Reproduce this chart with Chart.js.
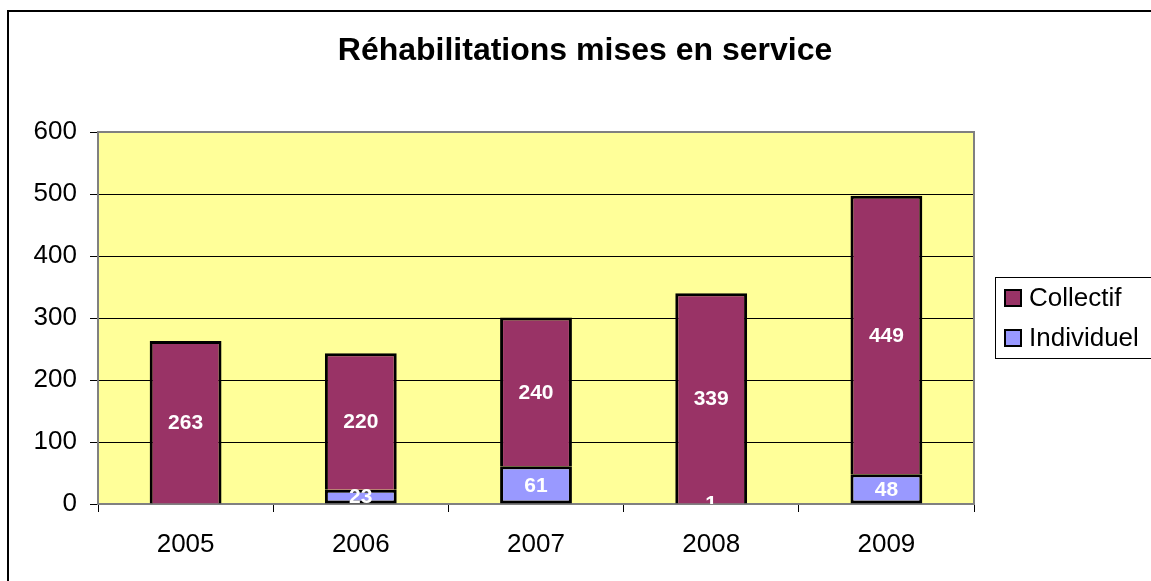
<!DOCTYPE html>
<html>
<head>
<meta charset="utf-8">
<script src="https://cdn.jsdelivr.net/npm/chart.js@4"></script>
<style>
html,body{margin:0;padding:0;background:#fff;}
canvas{display:block;}
</style>
</head>
<body>
<canvas id="c" width="1151" height="581"></canvas>
<script>
const titleText = 'Réhabilitations mises en service';
const categories = ['2005', '2006', '2007', '2008', '2009'];
const individuel = [null, 23, 61, 1, 48];
const collectif = [263, 220, 240, 339, 449];
const yMin = 0, yMax = 600, yStep = 100;

const FONT = '"Liberation Sans", Arial, sans-serif';

const bgPlugin = {
  id: 'bgPlugin',
  beforeDraw(chart) {
    const ctx = chart.ctx, a = chart.chartArea;
    ctx.save();
    ctx.fillStyle = '#fff';
    ctx.fillRect(0, 0, chart.width, chart.height);
    ctx.strokeStyle = '#000';
    ctx.lineWidth = 2;
    ctx.strokeRect(8, 11, chart.width + 20, chart.height + 20);
    ctx.fillStyle = '#FFFF99';
    ctx.fillRect(a.left, a.top, a.right - a.left, a.bottom - a.top);
    // title
    ctx.fillStyle = '#000';
    ctx.font = 'bold 32px ' + FONT;
    ctx.textAlign = 'center';
    ctx.textBaseline = 'middle';
    ctx.fillText(titleText, 585, 51);
    ctx.restore();
  },
  beforeDatasetsDraw(chart) {
    const ctx = chart.ctx, a = chart.chartArea;
    ctx.save();
    ctx.strokeStyle = '#808080';
    ctx.lineWidth = 2;
    ctx.strokeRect(a.left, a.top, a.right - a.left, a.bottom - a.top);
    ctx.restore();
  }
};

const labelPlugin = {
  id: 'labelPlugin',
  afterDatasetsDraw(chart) {
    const ctx = chart.ctx, a = chart.chartArea;
    ctx.save();
    ctx.beginPath();
    ctx.rect(a.left, a.top, a.right - a.left, a.bottom - a.top);
    ctx.clip();
    ctx.fillStyle = '#fff';
    ctx.font = 'bold 21px ' + FONT;
    ctx.textAlign = 'center';
    ctx.textBaseline = 'middle';
    chart.data.datasets.forEach((ds, i) => {
      const meta = chart.getDatasetMeta(i);
      meta.data.forEach((el, j) => {
        const v = ds.data[j];
        if (v === null || v === undefined) return;
        const y = (el.y + el.base) / 2;
        ctx.fillText(String(v), el.x, y + 1);
      });
    });
    ctx.restore();
  }
};

const legendPlugin = {
  id: 'legendPlugin',
  afterDraw(chart) {
    const ctx = chart.ctx;
    ctx.save();
    ctx.strokeStyle = '#000';
    ctx.lineWidth = 1;
    ctx.strokeRect(995.5, 277.5, 200, 81);
    const items = chart.data.datasets.slice().reverse();
    ctx.font = '26px ' + FONT;
    ctx.textBaseline = 'middle';
    ctx.textAlign = 'left';
    items.forEach((ds, k) => {
      const cy = 298 + k * 40;
      ctx.fillStyle = ds.backgroundColor;
      ctx.fillRect(1005, cy - 8, 16, 16);
      ctx.strokeStyle = '#000';
      ctx.lineWidth = 2;
      ctx.strokeRect(1005, cy - 8, 16, 16);
      ctx.fillStyle = '#000';
      ctx.fillText(ds.label, 1029, cy + 1);
    });
    ctx.restore();
  }
};

new Chart(document.getElementById('c'), {
  type: 'bar',
  data: {
    labels: categories,
    datasets: [
      {
        label: 'Individuel',
        data: individuel,
        backgroundColor: '#9999FF',
        borderColor: '#000',
        borderWidth: 3,
        borderSkipped: false,
        barPercentage: 0.41,
        categoryPercentage: 1
      },
      {
        label: 'Collectif',
        data: collectif,
        backgroundColor: '#993366',
        borderColor: '#000',
        borderWidth: 3,
        borderSkipped: 'start',
        barPercentage: 0.41,
        categoryPercentage: 1
      }
    ]
  },
  options: {
    responsive: false,
    animation: false,
    devicePixelRatio: 1,
    layout: { padding: { left: 0, right: 177, top: 132, bottom: 0 } },
    plugins: {
      legend: { display: false },
      tooltip: { enabled: false },
      title: { display: false }
    },
    scales: {
      x: {
        stacked: true,
        grid: {
          offset: true,
          drawOnChartArea: false,
          drawTicks: true,
          tickLength: 8,
          color: '#000',
          lineWidth: 1
        },
        border: { display: false },
        ticks: {
          color: '#000',
          font: { family: FONT, size: 26 },
          padding: 17,
          maxRotation: 0
        },
        afterFit(s) { s.height = 77; }
      },
      y: {
        stacked: true,
        min: yMin,
        max: yMax,
        ticks: {
          stepSize: yStep,
          color: '#000',
          font: { family: FONT, size: 26 },
          padding: 13
        },
        grid: {
          color: '#000',
          lineWidth: 1,
          drawTicks: true,
          tickLength: 8
        },
        border: { display: false },
        afterFit(s) { s.width = 98; }
      }
    }
  },
  plugins: [bgPlugin, labelPlugin, legendPlugin]
});
</script>
</body>
</html>
